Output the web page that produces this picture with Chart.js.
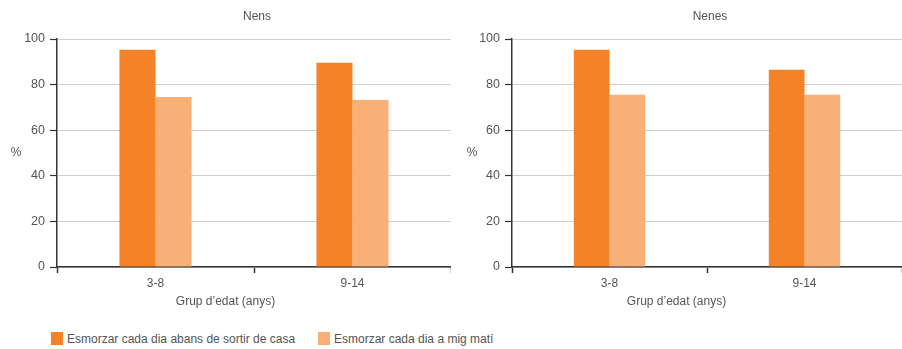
<!DOCTYPE html>
<html>
<head>
<meta charset="utf-8">
<script src="https://cdn.jsdelivr.net/npm/chart.js@4/dist/chart.umd.min.js"></script>
<style>
  html, body { margin: 0; padding: 0; background: #fff; }
  body { width: 902px; height: 349px; position: relative; overflow: hidden;
         font-family: "Liberation Sans", Arial, sans-serif; color: #555; }
  .panel { position: absolute; top: 0; height: 320px; }
  .legend { position: absolute; top: 330px; font-size: 12px; line-height: 16px; white-space: nowrap; }
  .legend span.sw { position: absolute; top: 2px; width: 12px; height: 13px; }
  .legend span.tx { position: absolute; top: 1px; }
</style>
</head>
<body>
<div class="panel" style="left:0;width:451px"><canvas id="nens"></canvas></div>
<div class="panel" style="left:451px;width:451px"><canvas id="nenes"></canvas></div>
<div class="legend" id="legend"></div>
<script>
// Age groups and percentages per group
const categories = ['3-8', '9-14'];
const seriesNames = ['Esmorzar cada dia abans de sortir de casa', 'Esmorzar cada dia a mig matí'];
const nensAbans = [95.3, 89.6];
const nensMigMati = [74.6, 73.3];
const nenesAbans = [95.3, 86.5];
const nenesMigMati = [75.5, 75.5];
const yTicks = [0, 20, 40, 60, 80, 100];
const panelTitles = ['Nens', 'Nenes'];
const xTitle = 'Grup d\u2019edat (anys)';
const yUnit = '%';

const colors = ['#F58226', '#F9B077'];
const textColor = '#555';
const fontFamily = '"Liberation Sans", Arial, sans-serif';

// Draws the panel title over the plot, the unit label and the x title
const panelText = {
  id: 'panelText',
  afterDraw(chart, args, opts) {
    const { ctx, chartArea } = chart;
    ctx.save();
    ctx.fillStyle = textColor;
    ctx.font = '12px ' + fontFamily;
    ctx.textAlign = 'center';
    ctx.textBaseline = 'middle';
    ctx.fillText(opts.title, (chartArea.left + chartArea.right) / 2 + 3, 17);
    ctx.fillText(yUnit, opts.unitX, (chartArea.top + chartArea.bottom) / 2);
    ctx.fillText(xTitle, chart.width / 2, 302);
    ctx.restore();
  }
};

function makePanel(id, title, abans, migMati, axisWidth, unitX) {
  return new Chart(document.getElementById(id), {
    type: 'bar',
    data: {
      labels: categories,
      datasets: [
        { label: seriesNames[0], data: abans, backgroundColor: colors[0] },
        { label: seriesNames[1], data: migMati, backgroundColor: colors[1] }
      ]
    },
    options: {
      responsive: true,
      maintainAspectRatio: false,
      animation: false,
      layout: { padding: { top: 39, right: 0, bottom: 0, left: 0 } },
      datasets: { bar: { categoryPercentage: 0.366, barPercentage: 1.0 } },
      plugins: {
        legend: { display: false },
        title: { display: false },
        tooltip: { enabled: false },
        panelText: { title: title, unitX: unitX }
      },
      scales: {
        x: {
          offset: true,
          grid: { display: true, offset: true, drawOnChartArea: false, drawTicks: true,
                  tickLength: 6, tickColor: '#333', tickWidth: 1.5 },
          border: { color: '#333', width: 1.5 },
          ticks: { color: textColor, padding: 3, font: { size: 12, family: fontFamily } },
          afterFit(s) { s.height = 53; }
        },
        y: {
          min: 0,
          max: 100,
          afterBuildTicks(s) { s.ticks = yTicks.map(v => ({ value: v })); },
          grid: { color: '#cfcfcf', lineWidth: 1, tickLength: 7, tickColor: '#333', tickWidth: 1.2 },
          border: { color: '#333', width: 1.5 },
          ticks: { color: textColor, padding: 5, font: { size: 12.5, family: fontFamily } },
          afterFit(s) { s.width = axisWidth; }
        }
      }
    },
    plugins: [panelText]
  });
}

makePanel('nens', panelTitles[0], nensAbans, nensMigMati, 57, 16);
makePanel('nenes', panelTitles[1], nenesAbans, nenesMigMati, 61, 21);

// Legend below both panels
const legend = document.getElementById('legend');
const legendX = [51, 318];
seriesNames.forEach((name, i) => {
  const sw = document.createElement('span');
  sw.className = 'sw';
  sw.style.left = legendX[i] + 'px';
  sw.style.background = colors[i];
  const tx = document.createElement('span');
  tx.className = 'tx';
  tx.style.left = (legendX[i] + 16) + 'px';
  tx.textContent = name;
  legend.appendChild(sw);
  legend.appendChild(tx);
});
</script>
</body>
</html>
